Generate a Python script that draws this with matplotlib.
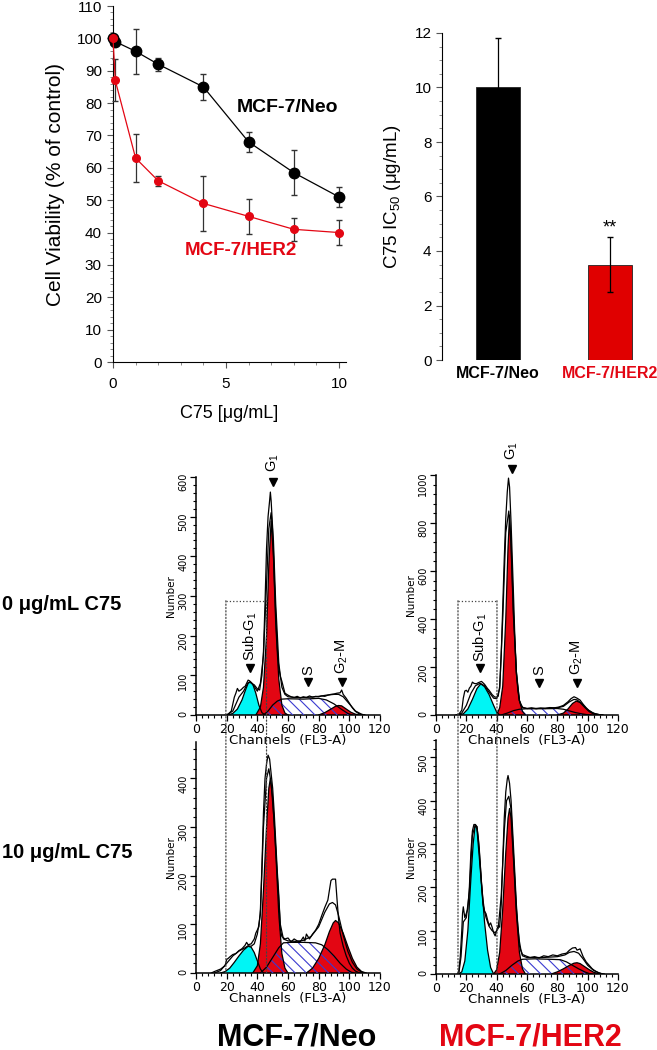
import numpy as np
import matplotlib
matplotlib.use('Agg')
import matplotlib.pyplot as plt
from matplotlib.ticker import MultipleLocator
from matplotlib.patches import ConnectionPatch

plt.rcParams['font.family'] = ['Liberation Sans', 'DejaVu Sans']
plt.rcParams['mathtext.fontset'] = 'custom'
plt.rcParams['mathtext.rm'] = 'Liberation Sans'
plt.rcParams['mathtext.it'] = 'Liberation Sans:italic'
plt.rcParams['mathtext.bf'] = 'Liberation Sans:bold'
plt.rcParams['mathtext.default'] = 'regular'
plt.rcParams['hatch.linewidth'] = 0.8

RED = '#e30613'
CYAN = '#00f5f5'
HATCH = '#3b3bd0'

# --- dose response (viability, % of control) ---
dose = [0, 0.1, 1, 2, 4, 6, 8, 10]
neo_viab = [100, 99, 96, 92, 85, 68, 58.5, 51]
neo_err = [0, 1, 7, 2, 4, 3, 7, 3]
her2_viab = [100, 87, 63, 56, 49, 45, 41, 40]
her2_err = [0, 6.5, 7.5, 1.5, 8.5, 5.5, 3.5, 4]

# --- IC50 bars ---
cell_lines = ['MCF-7/Neo', 'MCF-7/HER2']
ic50 = [10, 3.5]
ic50_err = [1.8, 1.0]

# --- cell cycle histograms: (channel, count) ---
neo0_subg1 = [(21, 0), (24, 4), (27, 15), (30, 38), (32, 60), (34, 80), (35.5, 84), (37, 78), (39, 55), (41, 25), (43, 6), (45, 0)]
neo0_g1 = [(39, 0), (42, 20), (44, 70), (46, 200), (47.5, 380), (49, 489), (50.5, 400), (52, 230), (54, 90), (56, 25), (58, 5), (60, 0)]
neo0_s = [(44, 0), (47, 10), (50, 25), (53, 35), (56, 40), (60, 41), (70, 40), (80, 42), (85, 38), (90, 28), (95, 14), (99, 4), (102, 0)]
neo0_g2 = [(80, 0), (84, 6), (88, 15), (91, 22), (93, 24), (95, 23), (98, 15), (101, 7), (104, 2), (107, 0)]
neo0_env1 = [(19, 0), (21, 2), (23, 10), (25, 45), (26, 55), (27, 67), (28, 60), (29.5, 64), (31, 70), (32, 72), (34, 88), (35, 86),
             (36, 80), (38, 76), (40, 66), (41.5, 63), (43, 100), (44, 160), (45, 280), (46, 420), (47, 500), (48, 540), (48.5, 562),
             (49, 540), (50, 470), (51, 350), (52, 250), (53, 170), (54, 120), (55, 97), (56, 85), (57, 70), (58, 55), (60, 50),
             (62, 46), (64, 44), (66, 47), (68, 43), (70, 46), (72, 44), (74, 48), (76, 45), (78, 47), (80, 46), (82, 48), (84, 47),
             (86, 50), (88, 52), (90, 53), (92, 55), (94, 56), (95, 63), (96, 52), (98, 42), (100, 30), (102, 18), (104, 9), (106, 4),
             (108, 1), (110, 0)]
neo0_env2 = [(20, 0), (24, 10), (28, 45), (31, 60), (34, 82), (36, 82), (38, 72), (40, 60), (42, 80), (44, 150), (46, 330), (47.5, 470),
             (49, 510), (50.5, 440), (52, 280), (54, 130), (56, 70), (58, 52), (60, 46), (65, 44), (70, 44), (75, 45), (80, 47),
             (85, 50), (90, 52), (93, 52), (96, 46), (100, 28), (104, 10), (108, 2), (110, 0)]

her0_subg1 = [(15, 0), (18, 5), (21, 25), (24, 65), (27, 110), (29.5, 130), (32, 118), (35, 85), (38, 40), (40, 12), (42, 0)]
her0_g1 = [(40, 0), (42, 30), (44, 120), (46, 400), (47.5, 700), (48.5, 833), (49.5, 700), (51, 420), (53, 180), (55, 60), (57, 15), (59, 0)]
her0_s = [(43, 0), (47, 8), (51, 18), (55, 24), (60, 26), (70, 26), (80, 27), (84, 24), (88, 17), (92, 10), (96, 5), (100, 1), (102, 0)]
her0_g2 = [(80, 0), (84, 8), (87, 25), (90, 48), (92.5, 58), (95, 52), (98, 32), (101, 14), (104, 4), (107, 0)]
her0_env1 = [(13, 0), (15, 3), (17, 20), (18, 70), (19, 100), (20, 103), (21, 95), (22, 112), (23, 120), (24, 137), (25, 132),
             (26.5, 130), (28, 135), (30, 140), (32, 128), (34, 110), (35, 103), (37, 85), (38.7, 75), (40, 74), (41, 78), (42, 120),
             (43, 250), (44, 450), (45, 650), (46, 820), (47, 930), (47.8, 987), (48.5, 950), (49.5, 800), (51, 520), (52, 320),
             (53, 180), (54, 100), (55, 60), (56, 40), (57.5, 30), (60, 27), (63, 30), (66, 26), (69, 29), (72, 27), (75, 31), (78, 30),
             (81, 33), (84, 40), (87, 55), (89, 68), (91, 76), (93, 70), (95, 62), (97, 45), (99, 30), (101, 18), (103, 10), (105, 5),
             (108, 1), (110, 0)]
her0_env2 = [(14, 0), (17, 8), (20, 40), (23, 90), (26, 122), (29, 132), (32, 122), (35, 95), (38, 70), (40, 68), (42, 110), (44, 400),
             (46, 760), (48, 850), (49.5, 720), (51, 440), (53, 170), (55, 60), (57, 32), (60, 27), (70, 28), (80, 30), (84, 36),
             (88, 55), (91, 65), (93, 63), (96, 48), (100, 22), (104, 7), (108, 1), (110, 0)]

neo10_subg1 = [(16, 0), (19, 3), (22, 10), (25, 22), (28, 35), (31, 47), (34, 55), (36, 53), (38, 42), (40, 25), (42, 8), (44, 0)]
neo10_g1 = [(37, 0), (40, 15), (42, 60), (44, 170), (46, 300), (47.5, 380), (48.5, 400), (50, 360), (52, 250), (54, 120), (56, 40), (58, 10), (60, 0)]
neo10_s = [(42, 0), (46, 12), (50, 32), (54, 52), (57, 62), (62, 63), (70, 63), (78, 62), (82, 58), (86, 48), (90, 35), (94, 20),
           (98, 8), (101, 2), (103, 0)]
neo10_g2 = [(72, 0), (76, 10), (80, 30), (84, 58), (87, 85), (89.5, 103), (91, 108), (93, 103), (96, 82), (99, 55), (102, 30),
            (105, 12), (108, 3), (111, 0)]
neo10_env1 = [(10, 0), (12, 3), (16, 8), (19, 15), (20, 28), (21, 30), (22, 33), (24, 38), (26, 40), (28, 46), (30, 50), (32, 57),
              (33, 63), (34, 58), (36, 60), (38, 70), (39, 82), (41, 95), (42, 130), (43, 220), (44, 330), (45, 400), (46, 430),
              (47, 448), (48, 440), (49, 410), (50, 380), (51, 330), (52, 270), (53, 210), (54, 160), (54.6, 120), (55, 90), (56, 75),
              (58, 70), (60, 72), (62, 64), (64, 70), (66, 66), (68, 64), (70, 74), (71, 66), (72, 80), (74, 70), (76, 80), (78, 88),
              (80, 100), (82, 118), (84, 135), (86, 150), (87, 170), (88, 190), (89, 193), (91, 193), (92, 150), (93, 110), (94, 82),
              (96, 55), (98, 35), (100, 20), (102, 10), (104, 4), (106, 1), (108, 0)]
neo10_env2 = [(12, 0), (16, 5), (20, 20), (24, 35), (28, 45), (32, 52), (34, 56), (36, 55), (38, 60), (40, 80), (42, 120), (44, 300),
              (46, 400), (47.5, 420), (49, 390), (51, 310), (53, 200), (55, 100), (57, 70), (60, 66), (65, 65), (70, 67), (75, 75),
              (80, 95), (84, 125), (87, 142), (89, 145), (91, 140), (93, 118), (96, 78), (99, 45), (102, 22), (105, 8), (108, 2), (110, 0)]

her10_subg1 = [(15, 0), (17, 5), (19, 30), (21, 100), (23, 220), (24.5, 300), (25.8, 343), (27, 340), (28.5, 290), (30, 210), (32, 120),
               (34, 55), (36, 15), (38, 0)]
her10_g1 = [(38, 0), (40, 10), (42, 50), (44, 150), (46, 280), (47.5, 360), (48.5, 382), (49.5, 360), (51, 270), (53, 140), (55, 50),
            (57, 12), (59, 0)]
her10_s = [(42, 0), (46, 8), (50, 20), (54, 30), (57, 34), (65, 35), (75, 34), (82, 33), (86, 28), (90, 20), (94, 12), (98, 5),
           (101, 1), (103, 0)]
her10_g2 = [(76, 0), (80, 5), (84, 12), (88, 20), (91, 25), (93, 26), (95, 24), (98, 17), (101, 10), (104, 4), (107, 1), (109, 0)]
her10_env1 = [(14, 0), (15, 5), (16, 40), (17, 100), (17.5, 140), (18, 155), (19, 130), (20, 140), (21, 150), (22, 200), (23, 280),
              (24, 330), (25, 345), (26, 345), (27, 340), (28, 310), (29, 260), (30, 210), (31, 170), (32, 145), (33, 139), (34, 125),
              (35, 112), (36, 118), (37, 108), (38, 95), (39, 88), (40, 100), (41, 112), (42, 108), (43, 160), (44, 260), (45, 360),
              (46, 420), (47, 450), (47.5, 458), (48.5, 440), (49.5, 400), (51, 300), (52, 230), (53, 160), (54, 110), (55, 75),
              (56, 55), (57, 45), (59, 42), (62, 38), (65, 40), (68, 37), (71, 42), (74, 40), (77, 44), (80, 42), (83, 46), (86, 48),
              (88, 55), (90, 60), (92, 61), (93, 55), (95, 58), (97, 40), (99, 28), (101, 20), (103, 12), (105, 7), (107, 3),
              (109, 1), (111, 0)]
her10_env2 = [(15, 0), (16.5, 40), (18, 120), (20, 130), (22, 190), (24, 320), (25.8, 343), (27, 335), (29, 250), (31, 160), (33, 130),
              (35, 110), (37, 100), (39, 95), (41, 105), (43, 180), (45, 330), (46.5, 400), (48, 410), (49.5, 380), (51, 280),
              (53, 150), (55, 65), (57, 42), (60, 38), (70, 38), (80, 40), (85, 44), (88, 50), (91, 52), (94, 48), (97, 35), (100, 20),
              (104, 8), (108, 2), (110, 0)]

W, H = 657, 1050
fig = plt.figure(figsize=(W / 100, H / 100), dpi=100)


def px_axes(l, t, r, b):
    return fig.add_axes([l / W, 1 - b / H, (r - l) / W, (b - t) / H])


# ---------------- viability curve ----------------
ax1 = px_axes(113, 6, 346, 362)
ax1.errorbar(dose, neo_viab, yerr=neo_err, color='black', lw=0.9, marker='o', ms=7.5,
             ecolor='#333333', elinewidth=0.9, capsize=2, clip_on=False, zorder=3)
ax1.errorbar(dose, her2_viab, yerr=her2_err, color=RED, lw=0.9, marker='o', ms=5.5,
             ecolor='#333333', elinewidth=0.9, capsize=2, clip_on=False, zorder=4)
ax1.set_xlim(0, 10.31)
ax1.set_ylim(0, 110)
ax1.spines[['top', 'right']].set_visible(False)
ax1.xaxis.set_major_locator(MultipleLocator(5))
ax1.xaxis.set_minor_locator(MultipleLocator(1))
ax1.yaxis.set_major_locator(MultipleLocator(10))
ax1.yaxis.set_minor_locator(MultipleLocator(2))
ax1.tick_params(which='major', length=4, width=0.8, labelsize=11, color='#555555')
ax1.tick_params(which='minor', length=2.5, width=0.6, color='#777777')
ax1.tick_params(axis='x', pad=7)
ax1.tick_params(axis='y', pad=4)
ax1.set_xlabel('C75 [\u03bcg/mL]', fontsize=13, labelpad=10)
ax1.set_ylabel('Cell Viability (% of control)', fontsize=15, labelpad=8)
ax1.text(5.49, 78.5, 'MCF-7/Neo', fontsize=14, fontweight='bold', va='center')
ax1.text(3.19, 34.6, 'MCF-7/HER2', fontsize=13.5, fontweight='bold', color=RED, va='center')

# ---------------- IC50 bars ----------------
ax2 = px_axes(442, 33, 650, 360)
xb = np.arange(len(cell_lines))
ax2.bar(xb, ic50, width=0.39, color=['black', '#e00000'], edgecolor='#222222', linewidth=0.6)
ax2.errorbar(xb, ic50, yerr=ic50_err, fmt='none', ecolor='black', elinewidth=0.9, capsize=2.5)
ax2.text(1, 4.55, '**', ha='center', va='bottom', fontsize=13)
ax2.set_xlim(-0.5, 1.357)
ax2.set_ylim(0, 12)
ax2.spines[['top', 'right', 'bottom']].set_visible(False)
ax2.yaxis.set_major_locator(MultipleLocator(2))
ax2.yaxis.set_minor_locator(MultipleLocator(0.5))
ax2.tick_params(axis='y', which='major', length=4, width=0.8, labelsize=11, color='#555555')
ax2.tick_params(axis='y', which='minor', length=2.5, width=0.6, color='#777777')
ax2.set_xticks(xb)
ax2.set_xticklabels(cell_lines, fontsize=11.5, fontweight='bold')
ax2.get_xticklabels()[1].set_color(RED)
ax2.tick_params(axis='x', length=0, pad=4)
ax2.set_ylabel('C75 IC$_{50}$ (\u03bcg/mL)', fontsize=13.5, labelpad=8)


# ---------------- cell cycle histograms ----------------
def xy(pts):
    a = np.array(pts, dtype=float)
    return a[:, 0], a[:, 1]


def flow(ax, subg1, g1, s, g2, env1, env2, ymax, ymaj, ymin):
    ax.patch.set_visible(False)
    sx, sy = xy(s)
    ax.fill(sx, sy, facecolor='white', edgecolor='none', zorder=1)
    for comp, col in ((subg1, CYAN), (g1, RED), (g2, RED)):
        cx, cy = xy(comp)
        ax.fill(cx, cy, facecolor=col, edgecolor='none', zorder=2)
    ax.fill(sx, sy, facecolor='none', edgecolor=HATCH, hatch='\\\\\\', linewidth=0, zorder=3)
    for comp in (subg1, g1, s, g2):
        cx, cy = xy(comp)
        ax.plot(cx, cy, color='black', lw=0.9, zorder=4)
    for env in (env1, env2):
        ex, ey = xy(env)
        ax.plot(ex, ey, color='black', lw=0.9, zorder=5)
    ax.set_xlim(0, 120)
    ax.set_ylim(0, ymax)
    ax.spines[['top', 'right']].set_visible(False)
    ax.spines[['left', 'bottom']].set_linewidth(1.1)
    ax.xaxis.set_major_locator(MultipleLocator(20))
    ax.xaxis.set_minor_locator(MultipleLocator(4))
    ax.yaxis.set_major_locator(MultipleLocator(ymaj))
    ax.yaxis.set_minor_locator(MultipleLocator(ymin))
    ax.tick_params(which='major', length=4, width=0.9)
    ax.tick_params(which='minor', length=2.5, width=0.8)
    ax.tick_params(axis='x', labelsize=9, pad=1.5)
    ax.tick_params(axis='y', labelsize=7, labelrotation=90, pad=1.5)
    for lab in ax.get_xticklabels() + ax.get_yticklabels():
        lab.set_family('DejaVu Sans')
    ax.set_xlabel('Channels  (FL3-A)', fontsize=9.5, labelpad=-1, family='DejaVu Sans')
    ax.set_ylabel('Number', fontsize=7.5, labelpad=2, family='DejaVu Sans')


def mark(ax, ch, ytri, ytext, label):
    ax.plot([ch], [ytri], marker='v', color='black', ms=6, clip_on=False, zorder=6)
    ax.text(ch, ytext, label, rotation=90, ha='center', va='bottom', fontsize=10.5, clip_on=False)


axA = px_axes(196, 477, 380, 715)
flow(axA, neo0_subg1, neo0_g1, neo0_s, neo0_g2, neo0_env1, neo0_env2, 600, 100, 20)
mark(axA, 35.4, 119, 137, 'Sub-G$_1$')
mark(axA, 73, 84, 101, 'S')
mark(axA, 95, 82, 104, 'G$_2$-M')
mark(axA, 50, 587, 612, 'G$_1$')

axB = px_axes(436, 475, 618, 715)
flow(axB, her0_subg1, her0_g1, her0_s, her0_g2, her0_env1, her0_env2, 1000, 200, 40)
mark(axB, 29.3, 196, 222, 'Sub-G$_1$')
mark(axB, 68, 133, 167, 'S')
mark(axB, 93, 133, 167, 'G$_2$-M')
mark(axB, 49.8, 1024, 1062, 'G$_1$')

axC = px_axes(196, 742, 380, 973)
flow(axC, neo10_subg1, neo10_g1, neo10_s, neo10_g2, neo10_env1, neo10_env2, 475, 100, 20)

axD = px_axes(436, 740, 618, 974)
flow(axD, her10_subg1, her10_g1, her10_s, her10_g2, her10_env1, her10_env2, 540, 100, 20)

# sub-G1 gates spanning both doses
for top_ax, bot_ax, lo, hi, top in ((axA, axC, 19.5, 46, 288), (axB, axD, 14.5, 40.2, 476)):
    top_ax.plot([lo, hi], [top, top], ls=':', color='#444444', lw=0.9, zorder=6)
    for ch in (lo, hi):
        cp = ConnectionPatch(xyA=(ch, top), coordsA='data', axesA=top_ax,
                             xyB=(ch, 0), coordsB='data', axesB=bot_ax,
                             ls=':', color='#444444', lw=0.9, zorder=6)
        fig.add_artist(cp)

fig.text(2 / W, 1 - 605 / H, '0 \u03bcg/mL C75', fontsize=14.5, fontweight='bold', va='center')
fig.text(2 / W, 1 - 853 / H, '10 \u03bcg/mL C75', fontsize=14.5, fontweight='bold', va='center')
fig.text(297 / W, 1 - 1037 / H, 'MCF-7/Neo', fontsize=22, fontweight='bold', ha='center', va='center')
fig.text(530 / W, 1 - 1037 / H, 'MCF-7/HER2', fontsize=22, fontweight='bold', ha='center', va='center', color=RED)

fig.savefig('out.png', dpi=100, facecolor='white')
